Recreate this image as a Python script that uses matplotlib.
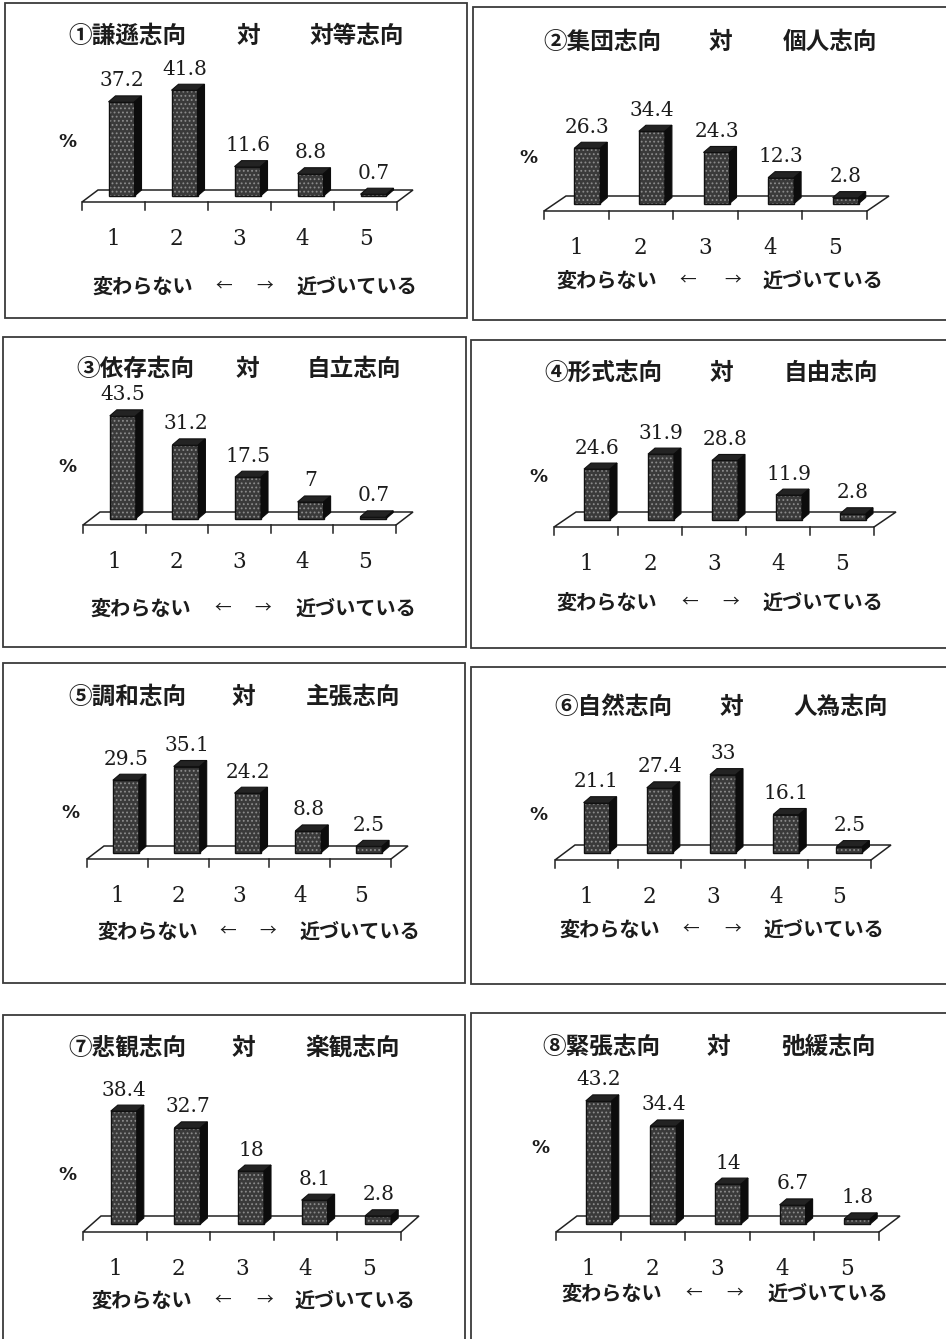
import matplotlib
matplotlib.use("Agg")
import matplotlib.pyplot as plt
from matplotlib.patches import Polygon, Rectangle

plt.rcParams['hatch.linewidth'] = 0.8

# ---------------- data ----------------
categories = ["1", "2", "3", "4", "5"]
titles_left = ["①謙遜志向", "②集団志向", "③依存志向", "④形式志向",
               "⑤調和志向", "⑥自然志向", "⑦悲観志向", "⑧緊張志向"]
titles_right = ["対等志向", "個人志向", "自立志向", "自由志向",
                "主張志向", "人為志向", "楽観志向", "弛緩志向"]
title_mid = "対"
values_1 = [37.2, 41.8, 11.6, 8.8, 0.7]
values_2 = [26.3, 34.4, 24.3, 12.3, 2.8]
values_3 = [43.5, 31.2, 17.5, 7, 0.7]
values_4 = [24.6, 31.9, 28.8, 11.9, 2.8]
values_5 = [29.5, 35.1, 24.2, 8.8, 2.5]
values_6 = [21.1, 27.4, 33, 16.1, 2.5]
values_7 = [38.4, 32.7, 18, 8.1, 2.8]
values_8 = [43.2, 34.4, 14, 6.7, 1.8]
all_values = [values_1, values_2, values_3, values_4,
              values_5, values_6, values_7, values_8]
xlabel_left = "変わらない"
xlabel_right = "近づいている"
unit_label = "%"

# ---------------- layout (pixels) ----------------
W, H = 946, 1339
panel_box = [(5, 3, 467, 318), (473, 7, 947, 320),
             (3, 337, 466, 647), (471, 340, 947, 648),
             (3, 663, 465, 983), (471, 667, 947, 984),
             (3, 1015, 465, 1345), (471, 1013, 947, 1345)]
floor_lr = [(82, 397), (544, 867), (83, 396), (554, 874),
            (87, 391), (555, 871), (83, 401), (556, 879)]
floor_front = [202, 211, 525, 527, 859, 860, 1232, 1232]
floor_depth = [(16, -12), (22, -15), (17, -13), (22, -15),
               (17, -13), (20, -15), (18, -16), (21, -16)]
px_per_unit = [2.53, 2.1, 2.36, 2.05, 2.45, 2.36, 2.94, 2.85]
title_pos = [(68, 248, 310, 36), (543, 720, 783, 42), (76, 247, 307, 369),
             (544, 721, 784, 373), (68, 243, 306, 697), (554, 731, 793, 707),
             (68, 243, 305, 1048), (542, 718, 781, 1047)]
xlab_pos = [(92, 224, 265, 297, 286), (556, 688, 733, 763, 280),
            (90, 223, 263, 296, 608), (556, 690, 731, 763, 602),
            (97, 228, 268, 300, 931), (559, 691, 733, 764, 929),
            (91, 223, 265, 295, 1300), (561, 694, 735, 768, 1293)]
pct_pos = [(67, 142), (528, 158), (67, 467), (538, 477),
           (70, 813), (538, 815), (67, 1175), (540, 1148)]

BAR_W_PX = 26
BAR_DEPTH = (7, -6)

fig = plt.figure(figsize=(W / 100, H / 100), dpi=100)
fig.patch.set_facecolor("white")


def fx(x):
    return x / W


def fy(y):
    return 1 - y / H


CJK = ['Noto Sans CJK JP', 'DejaVu Sans']
NUM = 'DejaVu Serif'
INK = "#1c1c1c"

for p in range(8):
    x0, y0, x1, y1 = panel_box[p]
    # panel border
    fig.add_artist(Rectangle((fx(x0), fy(y1)), fx(x1) - fx(x0), fy(y0) - fy(y1),
                             transform=fig.transFigure, fill=False,
                             edgecolor="#3a3a3a", linewidth=1.3))
    fl, fr = floor_lr[p]
    slot = (fr - fl) / 5.0
    fdx, fdy = floor_depth[p]
    sc = px_per_unit[p]
    base_px = floor_front[p] + fdy / 2.0  # pixel row of bar bottoms

    ax = fig.add_axes([fx(x0), fy(y1), fx(x1) - fx(x0), fy(y0) - fy(y1)])
    ax.set_xlim((x0 - fl) / slot, (x1 - fl) / slot)
    ax.set_ylim((base_px - y1) / sc, (base_px - y0) / sc)
    ax.axis("off")

    yf = (base_px - floor_front[p]) / sc
    ddx, ddy = fdx / slot, -fdy / sc
    # floor
    ax.add_patch(Polygon([(0, yf), (5, yf), (5 + ddx, yf + ddy), (ddx, yf + ddy)],
                         closed=True, facecolor="white", edgecolor="#222222",
                         linewidth=1.1, zorder=1))
    for k in range(6):
        ax.plot([k, k], [yf, yf - 8 / sc], color="#222222", linewidth=1.1, zorder=1)

    vals = all_values[p]
    xs = [i + 0.5 + ddx / 2 for i in range(5)]
    bw = BAR_W_PX / slot
    bdx, bdy = BAR_DEPTH[0] / slot, -BAR_DEPTH[1] / sc
    ax.bar(xs, vals, width=bw, bottom=0, facecolor="#3a3a3a",
           edgecolor="#8c8c8c", hatch="....", linewidth=0, zorder=3)
    ax.bar(xs, vals, width=bw, bottom=0, fill=False,
           edgecolor="#111111", linewidth=1.0, zorder=4)
    for xc, v in zip(xs, vals):
        xl, xr = xc - bw / 2, xc + bw / 2
        ax.add_patch(Polygon([(xl, v), (xr, v), (xr + bdx, v + bdy), (xl + bdx, v + bdy)],
                             closed=True, facecolor="#232323", edgecolor="#111111",
                             linewidth=0.8, zorder=4))
        ax.add_patch(Polygon([(xr, 0), (xr, v), (xr + bdx, v + bdy), (xr + bdx, bdy)],
                             closed=True, facecolor="#0c0c0c", edgecolor="#0c0c0c",
                             linewidth=0.8, zorder=4))
        lab = ("%g" % v)
        ax.annotate(lab, (xc, v), xytext=(0, 21), textcoords="offset pixels",
                    ha="center", va="center", fontsize=14.5, family=NUM,
                    color=INK, zorder=5)
    for i, c in enumerate(categories):
        ax.text(i + 0.5, yf - 37 / sc, c, ha="center", va="center",
                fontsize=15.5, family=NUM, color=INK)

    # title
    ta, tm, tb, ty = title_pos[p]
    fig.text(fx(ta), fy(ty), titles_left[p], ha="left", va="center",
             fontsize=17, family=CJK, fontweight="bold", color=INK)
    fig.text(fx(tm), fy(ty), title_mid, ha="center", va="center",
             fontsize=17, family=CJK, fontweight="bold", color=INK)
    fig.text(fx(tb), fy(ty), titles_right[p], ha="left", va="center",
             fontsize=17, family=CJK, fontweight="bold", color=INK)

    # x label line
    la, larr, rarr, lb, ly = xlab_pos[p]
    fig.text(fx(la), fy(ly), xlabel_left, ha="left", va="center",
             fontsize=14.5, family=CJK, fontweight="bold", color=INK)
    fig.text(fx(larr), fy(ly), "←", ha="center", va="center",
             fontsize=12, family=CJK, color=INK)
    fig.text(fx(rarr), fy(ly), "→", ha="center", va="center",
             fontsize=12, family=CJK, color=INK)
    fig.text(fx(lb), fy(ly), xlabel_right, ha="left", va="center",
             fontsize=14.5, family=CJK, fontweight="bold", color=INK)

    px_, py_ = pct_pos[p]
    fig.text(fx(px_), fy(py_), unit_label, ha="center", va="center",
             fontsize=13, family="DejaVu Sans", fontweight="bold", color=INK)

fig.savefig("out.png", dpi=100, facecolor="white")
